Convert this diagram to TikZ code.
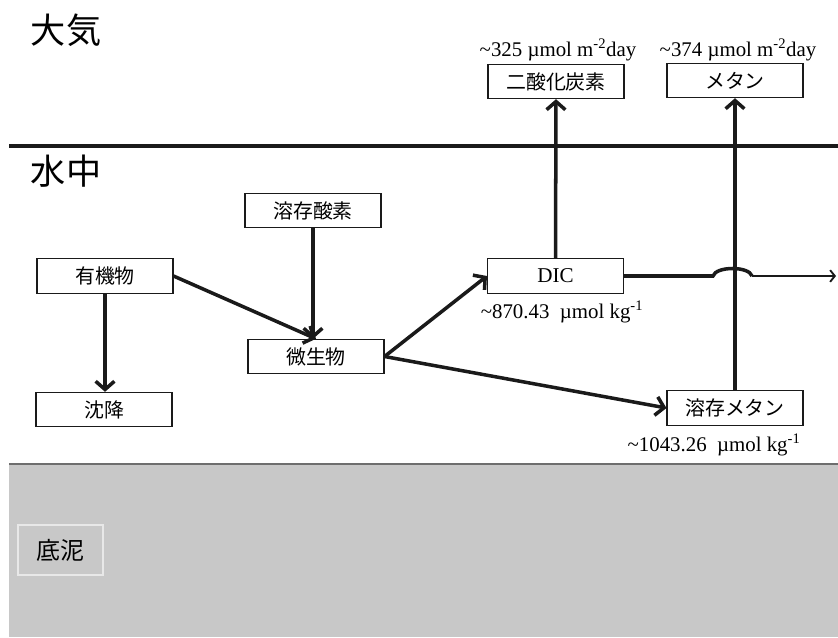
\documentclass[tikz,border=0pt]{standalone}
\usepackage{fontspec}
\setmainfont{Liberation Serif}
\newfontfamily\jp{Noto Sans CJK JP}
\usetikzlibrary{arrows.meta,positioning}
\definecolor{LineBlack}{HTML}{1A1A1A}
\definecolor{MudGray}{HTML}{C8C8C8}
\definecolor{MudEdge}{HTML}{6E6E6E}
\definecolor{MudBox}{HTML}{E8E8E8}
\tikzset{
  % Base box
  FB/.style={rectangle,minimum width=4.08cm,minimum height=1.03cm,
             inner sep=0pt,draw=LineBlack,line width=0.9pt,fill=white,
             font=\jp\fontsize{17}{17}\selectfont},
  % Arrow
  arr/.style={-{Straight Barb[length=7pt,width=16pt]},line width=3pt,draw=LineBlack},
  % Amount labels
  LB/.style={font=\fontsize{17.8}{18}\selectfont},
  % Layer titles
  TT/.style={font=\jp\fontsize{30}{30}\selectfont}
}

\begin{document}
\begin{tikzpicture}[x=0.03cm,y=-0.03cm]
  \useasboundingbox (0,0) rectangle (838,637);
  % Sediment layer
  \fill[MudGray] (9,464) rectangle (838,637);
  \draw[MudEdge,line width=2pt] (9,464) -- (838,464);
  \node[rectangle,draw=MudBox,line width=0.9pt,minimum width=2.55cm,minimum height=1.5cm,
        font=\jp\fontsize{20.5}{20.5}\selectfont] (mud) at (60.5,550) {底泥};
  % Air / water boundary
  \draw[LineBlack,line width=3pt] (9,146) -- (838,146);
  \node[TT] (air)   at (66,30)  {大気};
  \node[TT] (water) at (66,171) {水中};
  % Boxes
  \node[FB] (o2)    at (313,210.5) {溶存酸素};
  \node[FB] (org)   at (105,276)   {有機物};
  \node[FB] (mic)   at (316,356.5) {微生物};
  \node[FB] (sed)   at (104,409.5) {沈降};
  \node[FB,font=\fontsize{18}{18}\selectfont] (dic) at (555.5,276) {DIC};
  \node[FB] (dch4)  at (735,408)   {溶存メタン};
  \node[FB] (co2)   at (556,81.5)  {二酸化炭素};
  \node[FB] (ch4)   at (735,80.5)  {メタン};
  % Amounts
  \node[LB] (co2f)  at (558,50)  {\textasciitilde 325 µmol m\textsuperscript{-2}day};
  \node[LB] (ch4f)  at (738,50)  {\textasciitilde 374 µmol m\textsuperscript{-2}day};
  \node[LB] (dicc)  at (562,312) {\textasciitilde 870.43 \ µmol kg\textsuperscript{-1}};
  \node[LB] (dch4c) at (714,445) {\textasciitilde 1043.26 \ µmol kg\textsuperscript{-1}};
  % Flows
  \draw[arr] (org.east) -- (mic.north);
  \draw[arr] (o2.south) -- (o2.south |- mic.north);
  \draw[arr] (org.south) -- (org.south |- sed.north);
  \draw[arr] (mic.east) -- (dic.west);
  \draw[arr] (mic.east) -- (dch4.west);
  \draw[arr] (dic.north) -- (co2.south);
  \draw[arr] (dch4.north) -- (ch4.south);
  \coordinate (hopL) at (713,276);
  \coordinate (hopR) at (752,276);
  \coordinate (out)  at (836,276);
  \draw[LineBlack,line width=3pt] (dic.east) -- (hopL)
    .. controls (716,266) and (749,266) .. (hopR);
  \draw[-{Straight Barb[length=4pt,width=10pt]},LineBlack,line width=1.6pt] (hopR) -- (out);
\end{tikzpicture}
\end{document}
